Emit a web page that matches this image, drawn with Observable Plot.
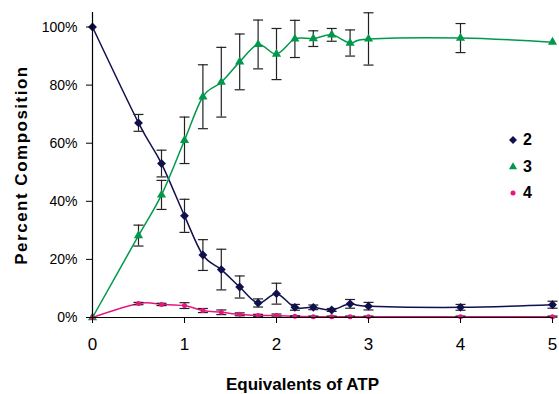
<!DOCTYPE html>
<html>
<head>
<meta charset="utf-8">
<script src="https://cdn.jsdelivr.net/npm/d3@7"></script>
<script src="https://cdn.jsdelivr.net/npm/@observablehq/plot@0.6"></script>
<style>
  html, body { margin: 0; padding: 0; background: #fff; }
  #wrap { position: relative; width: 559px; height: 394px; font-family: "Liberation Sans", Arial, sans-serif; }
  #legend { position: absolute; left: 507px; top: 127px; }
  .item { display: flex; align-items: center; height: 26.5px; }
  .item span { font-weight: bold; font-size: 16px; margin-left: 4px; color: #000; }
</style>
</head>
<body>
<div id="wrap"></div>
<script>
// Equivalents of ATP
const equiv = [0, 0.5, 0.75, 1, 1.2, 1.4, 1.6, 1.8, 2, 2.2, 2.4, 2.6, 2.8, 3, 4, 5];
// Percent composition of species 2, 3, 4 and their error bars
const comp2 = [100, 67, 53, 35, 21.5, 16.5, 10.5, 5, 8.2, 3.5, 3.5, 2.6, 4.7, 3.9, 3.5, 4.4];
const err2  = [0, 2.9, 4.6, 5.7, 5.3, 7, 3.8, 1.4, 3.6, 1, 0.8, 0.5, 1.5, 1.3, 1, 1.2];
const comp3 = [0, 28.2, 42.2, 61, 76, 81, 88, 94, 90.7, 95.9, 96, 97.3, 94.5, 95.9, 96.2, 94.8];
const err3  = [0, 3.6, 5, 8, 11, 12, 9.6, 8.4, 8.8, 6.4, 2.7, 2.2, 4.5, 9, 5, 0];
const comp4 = [0, 4.8, 4.5, 4.1, 2.4, 1.8, 1.1, 0.7, 0.7, 0.4, 0.3, 0.3, 0.3, 0.3, 0.3, 0.3];
const err4  = [0, 0.4, 0.4, 1, 0.7, 0.8, 0.5, 0.4, 0.5, 0.2, 0.2, 0.2, 0.2, 0.2, 0.2, 0.2];

const seriesNames = ["2", "3", "4"];
const seriesColors = ["#10104f", "#00994c", "#e8157f"];
const seriesSymbols = ["diamond2", "triangle", "circle"];
const seriesR = [4, 3.4, 2.5];
const yTicks = [0, 20, 40, 60, 80, 100];
const xTicks = [0, 1, 2, 3, 4, 5];

const values = [comp2, comp3, comp4];
const errors = [err2, err3, err4];
const rows = [];
seriesNames.forEach((s, k) => equiv.forEach((x, i) => rows.push({series: s, x, y: values[k][i], e: errors[k][i]})));
const errRows = rows.filter(d => d.e > 0);

const cap = { draw(ctx) { ctx.moveTo(-5, 0); ctx.lineTo(5, 0); } };

const marks = [];
seriesNames.forEach((s, k) => {
  marks.push(Plot.line(rows.filter(d => d.series === s), {x: "x", y: "y", stroke: seriesColors[k], strokeWidth: 1.5, curve: "cardinal"}));
});
marks.push(
  Plot.ruleX(errRows, {x: "x", y1: d => d.y - d.e, y2: d => d.y + d.e, stroke: "#222", strokeWidth: 1.2}),
  Plot.dot(errRows, {x: "x", y: d => d.y - d.e, symbol: cap, stroke: "#222", strokeWidth: 1.2, fill: "none"}),
  Plot.dot(errRows, {x: "x", y: d => d.y + d.e, symbol: cap, stroke: "#222", strokeWidth: 1.2, fill: "none"})
);
seriesNames.forEach((s, k) => {
  marks.push(Plot.dot(rows.filter(d => d.series === s), {x: "x", y: "y", symbol: seriesSymbols[k], fill: seriesColors[k], r: seriesR[k], stroke: "none"}));
});
marks.push(
  Plot.ruleY([0], {stroke: "#000", strokeWidth: 1.2}),
  Plot.ruleX([0], {stroke: "#000", strokeWidth: 1.2}),
  Plot.axisY({ticks: yTicks, tickFormat: d => d + "%", tickSize: 6, tickPadding: 9, fontSize: 14, label: null, stroke: "#000", color: "#000"}),
  Plot.axisX({ticks: xTicks, tickFormat: d => String(d), tickSize: 6, tickPadding: 14, fontSize: 17, label: null, stroke: "#000"}),
  Plot.text(["Equivalents of ATP"], {frameAnchor: "bottom", textAnchor: "middle", lineAnchor: "middle", dx: -20, dy: 67, fontSize: 17, fontWeight: "bold", fill: "#000"}),
  Plot.text(["Percent Composition"], {frameAnchor: "left", textAnchor: "middle", lineAnchor: "middle", dx: -71, rotate: -90, fontSize: 17, fontWeight: "bold", fill: "#000"})
);

const chart = Plot.plot({
  width: 559,
  height: 394,
  marginLeft: 92,
  marginRight: 7,
  marginTop: 12,
  marginBottom: 77,
  x: {domain: [0, 5]},
  y: {domain: [0, 105]},
  style: {fontFamily: '"Liberation Sans", Arial, sans-serif', color: "#000", background: "#fff", overflow: "visible"},
  marks
});
d3.select(chart).selectAll("text")
  .filter(function () { return this.textContent === "Percent Composition"; })
  .attr("letter-spacing", "1.5px");

const wrap = document.getElementById("wrap");
wrap.appendChild(chart);

// legend
const legend = document.createElement("div");
legend.id = "legend";
const symMap = {diamond2: d3.symbolDiamond2, triangle: d3.symbolTriangle, circle: d3.symbolCircle};
seriesNames.forEach((s, k) => {
  const item = document.createElement("div");
  item.className = "item";
  const svg = d3.create("svg").attr("width", 12).attr("height", 12);
  svg.append("path")
    .attr("transform", "translate(6,6)")
    .attr("d", d3.symbol(symMap[seriesSymbols[k]], Math.PI * seriesR[k] * seriesR[k] * (k === 2 ? 1 : 0.8))())
    .attr("fill", seriesColors[k]);
  item.appendChild(svg.node());
  const t = document.createElement("span");
  t.textContent = s;
  item.appendChild(t);
  legend.appendChild(item);
});
wrap.appendChild(legend);
</script>
</body>
</html>
